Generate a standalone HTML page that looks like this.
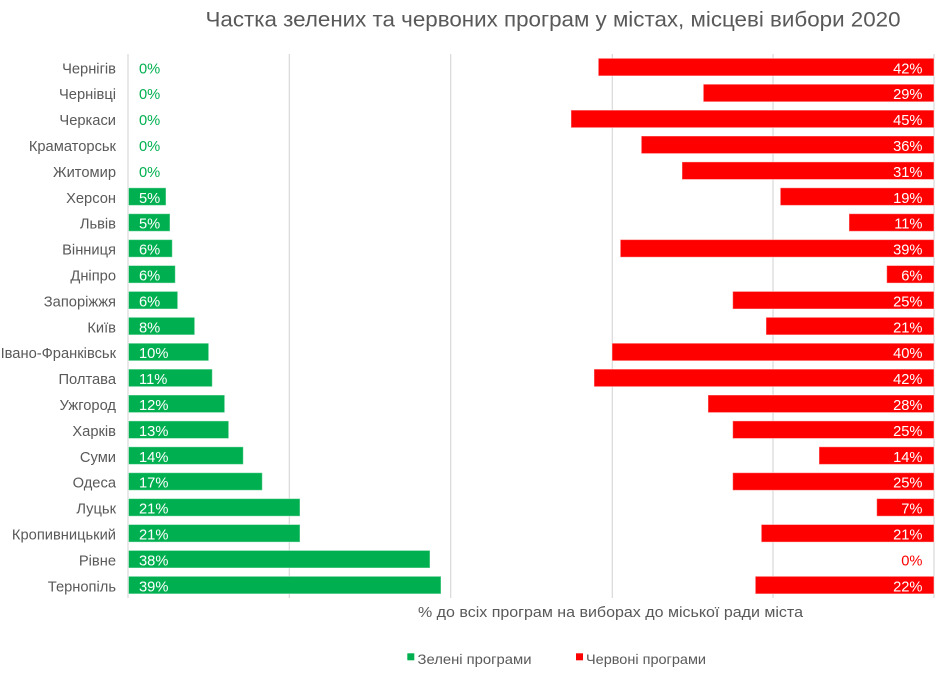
<!DOCTYPE html>
<html><head><meta charset="utf-8"><style>
html,body{margin:0;padding:0;background:#fff;}
svg{display:block;font-family:"Liberation Sans","Noto Sans CJK SC",sans-serif;}
</style></head><body>
<svg width="946" height="674" viewBox="0 0 946 674" xmlns="http://www.w3.org/2000/svg">
<rect width="946" height="674" fill="#fff"/>
<text x="205.5" y="26.5" font-size="21" fill="#595959" textLength="695" lengthAdjust="spacingAndGlyphs">Частка зелених та червоних програм у містах, місцеві вибори 2020</text>
<g stroke="#d9d9d9" stroke-width="1.2">
<line x1="128" y1="54" x2="128" y2="598"/>
<line x1="289.3" y1="54" x2="289.3" y2="598"/>
<line x1="450.7" y1="54" x2="450.7" y2="598"/>
<line x1="612.3" y1="54" x2="612.3" y2="598"/>
<line x1="773" y1="54" x2="773" y2="598"/>
<line x1="934" y1="54" x2="934" y2="598"/>
</g>
<g id="bars"></g>
<text x="610.5" y="617" font-size="15" fill="#595959" text-anchor="middle" textLength="385" lengthAdjust="spacingAndGlyphs">% до всіх програм на виборах до міської ради міста</text>
<rect x="407.3" y="653.3" width="7" height="7" fill="#00B050"/>
<text x="417.5" y="664" font-size="14" fill="#595959" textLength="114" lengthAdjust="spacingAndGlyphs">Зелені програми</text>
<rect x="576" y="653.3" width="7" height="7" fill="#FF0000"/>
<text x="586" y="664" font-size="14" fill="#595959" textLength="120" lengthAdjust="spacingAndGlyphs">Червоні програми</text>
<g font-size="14.7">
<!-- rows generated inline -->
<g fill="#595959" text-anchor="end">
<text x="116" y="73.3">Чернігів</text>
<text x="116" y="99.2">Чернівці</text>
<text x="116" y="125.1">Черкаси</text>
<text x="116" y="151">Краматорськ</text>
<text x="116" y="176.9">Житомир</text>
<text x="116" y="202.8">Херсон</text>
<text x="116" y="228.7">Львів</text>
<text x="116" y="254.6">Вінниця</text>
<text x="116" y="280.5">Дніпро</text>
<text x="116" y="306.4">Запоріжжя</text>
<text x="116" y="332.3">Київ</text>
<text x="116" y="358.2">Івано-Франківськ</text>
<text x="116" y="384.1">Полтава</text>
<text x="116" y="410">Ужгород</text>
<text x="116" y="435.9">Харків</text>
<text x="116" y="461.8">Суми</text>
<text x="116" y="487.7">Одеса</text>
<text x="116" y="513.6">Луцьк</text>
<text x="116" y="539.5">Кропивницький</text>
<text x="116" y="565.4">Рівне</text>
<text x="116" y="591.3">Тернопіль</text>
</g>
<g fill="#00B050" stroke="#ffffff" stroke-opacity="0.45" stroke-width="1">
<rect x="128.5" y="187.8" width="37.5" height="17.6"/>
<rect x="128.5" y="213.7" width="41.5" height="17.6"/>
<rect x="128.5" y="239.6" width="43.8" height="17.6"/>
<rect x="128.5" y="265.5" width="46.8" height="17.6"/>
<rect x="128.5" y="291.4" width="49.2" height="17.6"/>
<rect x="128.5" y="317.3" width="66.2" height="17.6"/>
<rect x="128.5" y="343.2" width="80.2" height="17.6"/>
<rect x="128.5" y="369.1" width="83.8" height="17.6"/>
<rect x="128.5" y="395" width="96.2" height="17.6"/>
<rect x="128.5" y="420.9" width="100.2" height="17.6"/>
<rect x="128.5" y="446.8" width="114.8" height="17.6"/>
<rect x="128.5" y="472.7" width="133.8" height="17.6"/>
<rect x="128.5" y="498.6" width="171.5" height="17.6"/>
<rect x="128.5" y="524.5" width="171.5" height="17.6"/>
<rect x="128.5" y="550.4" width="301.5" height="17.6"/>
<rect x="128.5" y="576.3" width="312.5" height="17.6"/>
</g>
<g fill="#FF0000" stroke="#ffffff" stroke-opacity="0.45" stroke-width="1">
<rect x="598.3" y="58.3" width="335.7" height="17.6"/>
<rect x="703.3" y="84.2" width="230.7" height="17.6"/>
<rect x="571" y="110.1" width="363" height="17.6"/>
<rect x="641.3" y="136" width="292.7" height="17.6"/>
<rect x="682" y="161.9" width="252" height="17.6"/>
<rect x="780.3" y="187.8" width="153.7" height="17.6"/>
<rect x="849" y="213.7" width="85" height="17.6"/>
<rect x="620.3" y="239.6" width="313.7" height="17.6"/>
<rect x="886.7" y="265.5" width="47.3" height="17.6"/>
<rect x="732.7" y="291.4" width="201.3" height="17.6"/>
<rect x="766" y="317.3" width="168" height="17.6"/>
<rect x="612" y="343.2" width="322" height="17.6"/>
<rect x="594" y="369.1" width="340" height="17.6"/>
<rect x="708" y="395" width="226" height="17.6"/>
<rect x="732.7" y="420.9" width="201.3" height="17.6"/>
<rect x="819" y="446.8" width="115" height="17.6"/>
<rect x="732.7" y="472.7" width="201.3" height="17.6"/>
<rect x="876.7" y="498.6" width="57.3" height="17.6"/>
<rect x="761.3" y="524.5" width="172.7" height="17.6"/>
<rect x="755.3" y="576.3" width="178.7" height="17.6"/>
</g>
<g fill="#00B050">
<text x="139" y="73.3">0%</text>
<text x="139" y="99.2">0%</text>
<text x="139" y="125.1">0%</text>
<text x="139" y="151">0%</text>
<text x="139" y="176.9">0%</text>
</g>
<g fill="#ffffff">
<text x="139" y="202.8">5%</text>
<text x="139" y="228.7">5%</text>
<text x="139" y="254.6">6%</text>
<text x="139" y="280.5">6%</text>
<text x="139" y="306.4">6%</text>
<text x="139" y="332.3">8%</text>
<text x="139" y="358.2">10%</text>
<text x="139" y="384.1">11%</text>
<text x="139" y="410">12%</text>
<text x="139" y="435.9">13%</text>
<text x="139" y="461.8">14%</text>
<text x="139" y="487.7">17%</text>
<text x="139" y="513.6">21%</text>
<text x="139" y="539.5">21%</text>
<text x="139" y="565.4">38%</text>
<text x="139" y="591.3">39%</text>
</g>
<g fill="#ffffff" text-anchor="end">
<text x="922.5" y="73.3">42%</text>
<text x="922.5" y="99.2">29%</text>
<text x="922.5" y="125.1">45%</text>
<text x="922.5" y="151">36%</text>
<text x="922.5" y="176.9">31%</text>
<text x="922.5" y="202.8">19%</text>
<text x="922.5" y="228.7">11%</text>
<text x="922.5" y="254.6">39%</text>
<text x="922.5" y="280.5">6%</text>
<text x="922.5" y="306.4">25%</text>
<text x="922.5" y="332.3">21%</text>
<text x="922.5" y="358.2">40%</text>
<text x="922.5" y="384.1">42%</text>
<text x="922.5" y="410">28%</text>
<text x="922.5" y="435.9">25%</text>
<text x="922.5" y="461.8">14%</text>
<text x="922.5" y="487.7">25%</text>
<text x="922.5" y="513.6">7%</text>
<text x="922.5" y="539.5">21%</text>
<text x="922.5" y="591.3">22%</text>
</g>
<text x="922.5" y="565.4" fill="#FF0000" text-anchor="end">0%</text>
</g>
</svg>
</body></html>
